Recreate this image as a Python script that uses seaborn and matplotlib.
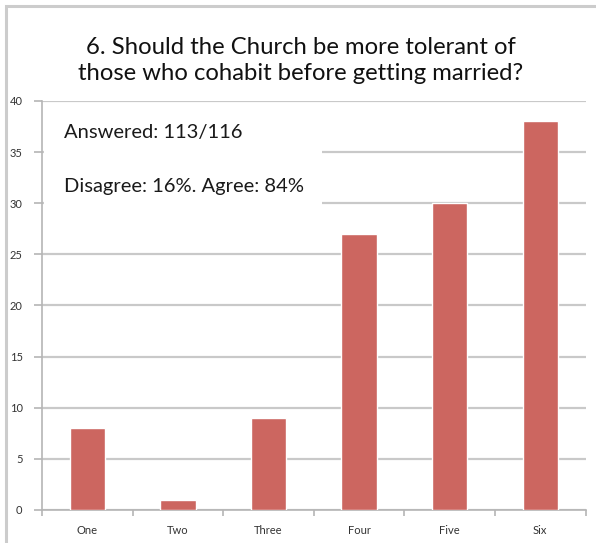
import matplotlib
matplotlib.use("Agg")
import matplotlib.pyplot as plt
import seaborn as sns
import pandas as pd
from matplotlib.patches import Rectangle
from matplotlib.ticker import MultipleLocator, FixedLocator

# data
categories = ["One", "Two", "Three", "Four", "Five", "Six"]
counts = [8, 1, 9, 27, 30, 38]
title = "6. Should the Church be more tolerant of\nthose who cohabit before getting married?"
note_answered = "Answered: 113/116"
note_split = "Disagree: 16%. Agree: 84%"

bar_color = "#CC6660"
grid_color = "#C9C9C9"

sns.set_style("white")
plt.rcParams["font.family"] = ["Lato", "DejaVu Sans"]

df = pd.DataFrame({"answer": categories, "count": counts})

fig = plt.figure(figsize=(5.96, 5.43), dpi=100)
ax = fig.add_axes([0.0705, 0.0608, 0.912, 0.7532])

sns.barplot(data=df, x="answer", y="count", color=bar_color, saturation=1,
            width=0.39, ax=ax, zorder=3)
ax.set_xlim(-0.5, len(categories) - 0.5)
ax.set_ylim(0, 40)
ax.set_xlabel("")
ax.set_ylabel("")

# gridlines and axis styling
ax.yaxis.set_major_locator(MultipleLocator(5))
ax.grid(axis="y", color=grid_color, linewidth=1.6, zorder=0)
ax.set_axisbelow(True)
for side in ["top", "right"]:
    ax.spines[side].set_visible(False)
for side in ["left", "bottom"]:
    ax.spines[side].set_color("#B5B5B5")
    ax.spines[side].set_linewidth(1.2)

# category ticks sit on the boundaries, labels in the middle
ax.xaxis.set_major_locator(FixedLocator([i - 0.5 for i in range(len(categories) + 1)]))
ax.xaxis.set_minor_locator(FixedLocator(range(len(categories))))
ax.set_xticklabels([], minor=False)
ax.set_xticklabels(categories, minor=True)
ax.tick_params(axis="x", which="major", bottom=True, length=4, width=1.2, color="#B5B5B5")
ax.tick_params(axis="x", which="minor", length=0, pad=11, labelsize=8, labelcolor="#333333")
ax.tick_params(axis="y", left=True, length=6, width=1.2, color="#B5B5B5",
               labelsize=8, labelcolor="#333333", pad=8)

# white note box over the gridlines
ax.add_patch(Rectangle((0.003, 0.735), 0.513, 0.253, transform=ax.transAxes,
                       facecolor="white", edgecolor="none", zorder=2))
ax.text(0.0405, 0.922, note_answered, transform=ax.transAxes, fontsize=14.5,
        color="#1a1a1a", va="center", zorder=4)
ax.text(0.0405, 0.790, note_split, transform=ax.transAxes, fontsize=14.5,
        color="#1a1a1a", va="center", zorder=4)

fig.text(0.505, 0.889, title, ha="center", va="center", fontsize=17.2,
         color="#111111", linespacing=1.3)

# outer chart frame (only left and top edges show)
fig.add_artist(Rectangle((6 / 596, -0.1), 1.2, (543 - 6) / 543 + 0.1,
                         transform=fig.transFigure, facecolor="none",
                         edgecolor="#CCCCCC", linewidth=2.2))

fig.savefig("out.png", dpi=100)
